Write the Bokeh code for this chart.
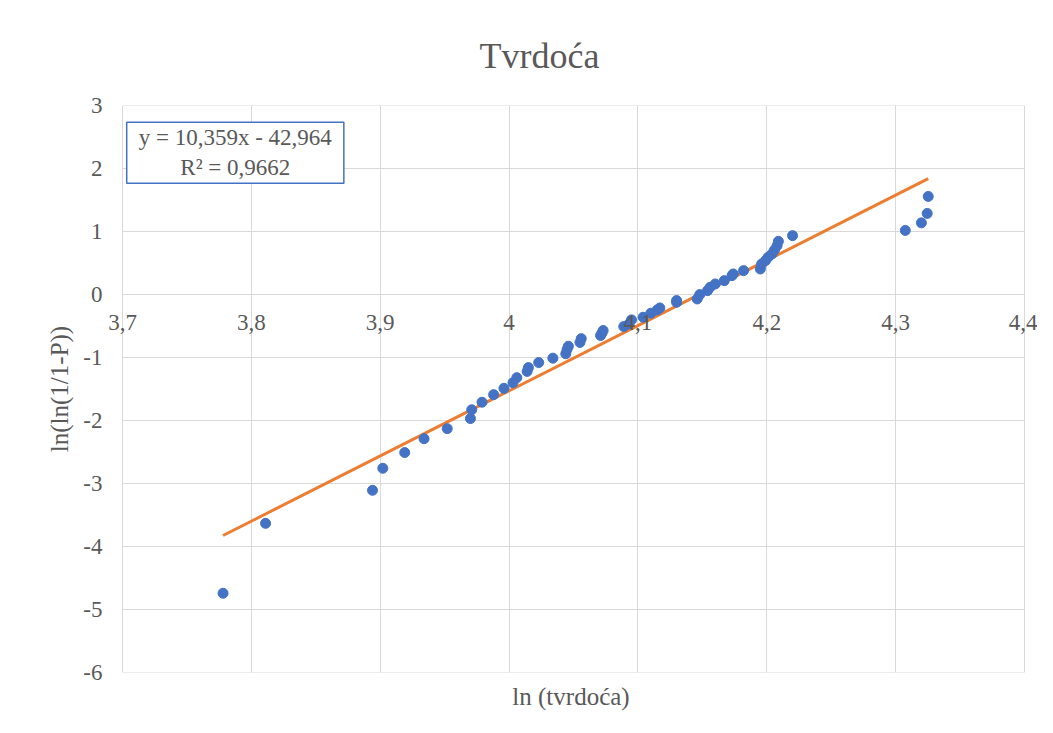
from bokeh.plotting import figure
from bokeh.models import Range1d, FixedTicker, Label, CustomJSTickFormatter, ColumnDataSource, LinearAxis
from bokeh.embed import file_html
from bokeh.resources import INLINE

# ---- data ----
ln_tvrdoca = [3.778, 3.811, 3.894, 3.902, 3.919, 3.934, 3.952, 3.970, 3.971, 3.979,
              3.988, 3.996, 4.003, 4.006, 4.014, 4.015, 4.023, 4.034, 4.044, 4.045,
              4.046, 4.055, 4.056, 4.071, 4.072, 4.073, 4.089, 4.093, 4.095, 4.104,
              4.110, 4.115, 4.117, 4.130, 4.130, 4.146, 4.148, 4.154, 4.156, 4.160,
              4.167, 4.173, 4.174, 4.182, 4.195, 4.196, 4.199, 4.201, 4.204, 4.206,
              4.208, 4.209, 4.220, 4.3075, 4.320, 4.3245, 4.3253]
ln_ln_p = [-4.746, -3.635, -3.11, -2.76, -2.51, -2.29, -2.13, -1.97, -1.83, -1.71,
           -1.59, -1.49, -1.40, -1.32, -1.22, -1.16, -1.08, -1.01, -0.94, -0.87,
           -0.82, -0.76, -0.70, -0.65, -0.614, -0.571, -0.508, -0.466, -0.402, -0.36,
           -0.296, -0.243, -0.212, -0.122, -0.095, -0.069, 0.0, 0.063, 0.116, 0.169,
           0.222, 0.302, 0.328, 0.381, 0.407, 0.487, 0.54, 0.593, 0.646, 0.709,
           0.778, 0.847, 0.937, 1.02, 1.14, 1.29, 1.56]
slope = 10.359
intercept = -42.964
r_squared = "0,9662"
x_ticks = [3.7, 3.8, 3.9, 4.0, 4.1, 4.2, 4.3, 4.4]
y_ticks = [3, 2, 1, 0, -1, -2, -3, -4, -5, -6]
title_text = "Tvrdoća"
x_label = "ln (tvrdoća)"
y_label = "ln(ln(1/1-P))"

FONT = "Liberation Serif"
TXT = "#595959"
GRID = "#D9D9D9"

# a little room around the 3.7 / 4.4 and -6 / 3 lines so edge labels and grid lines show
p = figure(width=1037, height=717, x_range=Range1d(3.686, 4.4101), y_range=Range1d(-6.005, 3.005),
           output_backend="svg", toolbar_location=None,
           min_border_left=104, min_border_right=0, min_border_top=105, min_border_bottom=45)
p.outline_line_color = None
p.background_fill_color = "white"
p.border_fill_color = "white"

# title
p.title.text = title_text
p.title.text_font = FONT
p.title.text_font_size = "36px"
p.title.text_font_style = "normal"
p.title.text_color = TXT
p.title.align = "left"
p.title.offset = 375
p.title.standoff = 59

fmt = CustomJSTickFormatter(code="""
const s = (Math.round(tick*10)/10).toString();
return s.replace('.', ',');
""")

# default below axis: carries only the axis title
xb = p.xaxis[0]
xb.ticker = FixedTicker(ticks=[])
xb.axis_line_color = None
xb.major_tick_line_color = None
xb.minor_tick_line_color = None
xb.major_tick_out = 0
xb.minor_tick_out = 0
xb.major_label_standoff = 0
xb.axis_label = x_label
xb.axis_label_text_font = FONT
xb.axis_label_text_font_size = "25px"
xb.axis_label_text_font_style = "normal"
xb.axis_label_text_color = TXT
xb.axis_label_standoff = 10

# x axis with tick labels drawn at y = 0
xa = LinearAxis(fixed_location=0, ticker=FixedTicker(ticks=x_ticks), formatter=fmt)
xa.axis_line_color = None
xa.major_tick_line_color = None
xa.minor_tick_line_color = None
xa.major_tick_out = 0
xa.minor_tick_out = 0
xa.major_label_standoff = 20
xa.major_label_text_font = FONT
xa.major_label_text_font_size = "23px"
xa.major_label_text_color = TXT
p.add_layout(xa, "below")

ya = p.yaxis[0]
ya.ticker = FixedTicker(ticks=y_ticks)
ya.formatter = fmt
ya.axis_line_color = None
ya.major_tick_line_color = None
ya.minor_tick_line_color = None
ya.major_tick_out = 0
ya.minor_tick_out = 0
ya.major_label_standoff = 2
ya.major_label_text_font = FONT
ya.major_label_text_font_size = "23px"
ya.major_label_text_color = TXT
ya.axis_label = y_label
ya.axis_label_text_font = FONT
ya.axis_label_text_font_size = "25px"
ya.axis_label_text_font_style = "normal"
ya.axis_label_text_color = TXT
ya.axis_label_standoff = 7

p.xgrid.ticker = FixedTicker(ticks=x_ticks)
p.ygrid.ticker = FixedTicker(ticks=y_ticks)
p.ygrid.cross_bounds = (3.7, 4.4)
p.xgrid.cross_bounds = (-6, 3)
for g in (p.xgrid, p.ygrid):
    g.grid_line_color = GRID
    g.grid_line_width = 1

# trendline
x_min, x_max = min(ln_tvrdoca), max(ln_tvrdoca)
p.line([x_min, x_max], [slope * x_min + intercept, slope * x_max + intercept],
       line_color="#ED7D31", line_width=3)

src = ColumnDataSource(dict(x=ln_tvrdoca, y=ln_ln_p))
p.scatter("x", "y", source=src, size=10, fill_color="#4472C4", line_color="#4472C4")

eq_text = "y = " + f"{slope:.3f}".replace(".", ",") + "x - " + f"{-intercept:.3f}".replace(".", ",") + "\nR² = " + r_squared
eq = Label(x=3.7875, y=2.254, text=eq_text, text_align="center", text_baseline="middle",
           text_font=FONT, text_font_size="23px", text_color=TXT,
           background_fill_color="white", border_line_color="#4472C4", border_line_width=1.5,
           padding=(12, 3))
p.add_layout(eq)

open("out.html", "w").write(file_html(p, INLINE))
